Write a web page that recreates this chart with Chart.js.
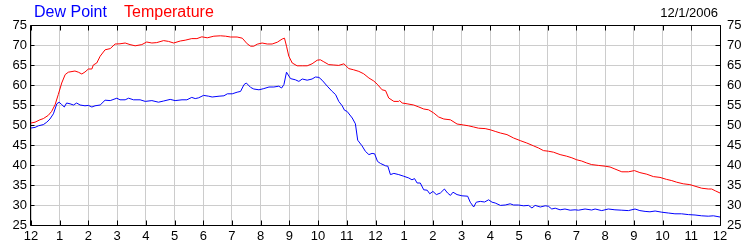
<!DOCTYPE html>
<html><head><meta charset="utf-8">
<script src="https://cdn.jsdelivr.net/npm/chart.js@4/dist/chart.umd.min.js"></script>
<style>html,body{margin:0;padding:0;background:#fff;overflow:hidden}canvas{display:block}</style>
</head><body>
<canvas id="c" width="750" height="250"></canvas>
<script>
const hourTicks = [0,1,2,3,4,5,6,7,8,9,10,11,12,13,14,15,16,17,18,19,20,21,22,23,24];
const hourLabels = ['12','1','2','3','4','5','6','7','8','9','10','11','12','1','2','3','4','5','6','7','8','9','10','11','12'];
const yTicks = [25,30,35,40,45,50,55,60,65,70,75];
const seriesNames = ['Dew Point','Temperature'];
const dateLabel = '12/1/2006';

const tempHours = [0,0.14,0.31,0.43,0.6,0.72,0.84,0.95,1.07,1.19,1.3,1.53,1.65,1.77,1.88,2.0,2.12,2.17,2.29,2.41,2.58,2.76,2.93,3.1,3.28,3.45,3.63,3.86,4.03,4.21,4.38,4.62,4.79,4.97,5.2,5.37,5.6,5.78,5.95,6.14,6.37,6.6,6.78,6.95,7.18,7.36,7.53,7.65,7.76,7.88,8.05,8.23,8.4,8.58,8.75,8.83,8.9,8.98,9.1,9.27,9.45,9.62,9.79,9.97,10.08,10.2,10.37,10.55,10.72,10.9,11.07,11.24,11.42,11.59,11.77,11.94,12.06,12.23,12.35,12.46,12.64,12.81,12.84,12.93,13.1,13.33,13.51,13.68,13.85,14.03,14.2,14.38,14.61,14.84,15.07,15.24,15.42,15.59,15.82,16.0,16.17,16.35,16.58,16.81,17.04,17.27,17.5,17.68,17.85,18.02,18.2,18.43,18.66,18.84,19.01,19.18,19.36,19.53,19.76,20.0,20.17,20.34,20.58,20.81,21.02,21.21,21.45,21.68,21.91,22.14,22.32,22.49,22.72,22.95,23.13,23.36,23.59,23.71,23.85,24.0];
const tempValues = [50.5,50.7,51.3,51.6,52.4,53.4,55.1,57.6,60.5,62.6,63.2,63.5,63.2,62.75,63.25,64,64,65,65.5,67.2,68.8,69.1,70.25,70.3,70.5,70.1,69.8,70.1,70.75,70.5,70.6,71.1,70.9,70.5,71,71.2,71.6,71.6,72.05,71.8,72.2,72.3,72.2,72.0,72,71.7,70.3,69.7,69.7,70.2,70.5,70.25,70.25,70.7,71.5,71.7,69.7,67.2,65.5,64.8,64.8,64.8,65.3,66.2,66.3,65.8,65.1,65,64.9,65.3,64.1,63.8,63.4,62.8,61.75,61.0,60.2,58.8,58.6,56.75,55.9,55.9,56.1,55.5,55.3,55,54.5,54,53.8,53,52,51.5,51.3,50.25,50,49.8,49.5,49.2,49.1,48.8,48.4,48,47.6,46.75,46.1,45.5,44.8,44.25,43.6,43.45,43.2,42.6,42.2,41.8,41.3,41,40.5,40.1,39.9,39.7,39.5,39,38.3,38.3,38.6,38.1,37.7,37.1,36.9,36.4,36.1,35.7,35.3,35.1,34.7,34.2,34,34,33.5,33];

const dewHours = [0,0.14,0.26,0.43,0.55,0.66,0.78,0.9,0.98,1.07,1.16,1.24,1.36,1.48,1.59,1.71,1.88,2.0,2.12,2.23,2.41,2.58,2.76,2.99,3.1,3.28,3.4,3.57,3.8,3.98,4.21,4.44,4.62,4.85,5.02,5.26,5.43,5.6,5.72,5.84,6.01,6.19,6.31,6.55,6.72,6.84,7.01,7.18,7.3,7.42,7.5,7.65,7.76,7.94,8.11,8.29,8.46,8.63,8.73,8.81,8.9,9.04,9.21,9.33,9.45,9.62,9.79,9.91,10.03,10.14,10.32,10.49,10.61,10.72,10.84,10.92,11.01,11.19,11.3,11.38,11.53,11.65,11.77,11.88,11.97,12.07,12.17,12.35,12.43,12.52,12.64,12.81,12.98,13.16,13.27,13.36,13.45,13.56,13.68,13.8,13.89,14.0,14.12,14.26,14.4,14.51,14.61,14.7,14.84,15.01,15.21,15.3,15.42,15.51,15.65,15.8,15.94,16.06,16.17,16.35,16.52,16.69,16.81,16.98,17.16,17.33,17.45,17.56,17.74,17.91,18.02,18.14,18.26,18.43,18.6,18.78,18.95,19.07,19.3,19.53,19.65,19.88,20.11,20.34,20.58,20.81,21.04,21.21,21.39,21.56,21.74,21.97,22.2,22.43,22.66,22.9,23.13,23.36,23.59,23.77,24.0];
const dewValues = [49.25,49.4,49.8,50.1,50.7,51.5,52.8,55.3,55.7,55.1,54.5,55.5,55.3,55,55.5,55,54.8,54.9,54.5,54.8,55,56.2,56.1,56.7,56.3,56.3,56.7,56.3,56.3,55.9,56.1,55.7,56,56.4,56.1,56.3,56.3,56.9,56.6,56.8,57.4,57.2,57,57.2,57.3,57.8,57.8,58.2,58.4,60.1,60.5,59.4,59,58.8,59.1,59.5,59.5,59.7,59.25,60.1,63.2,61.6,61.3,60.9,61.5,61.2,61.5,62,61.9,61.2,59.7,58.4,57.6,55.9,54.8,53.7,53.4,51.75,50.3,46.2,44.8,43.4,42.6,42.9,42.8,40.9,40.4,39.8,39.7,37.6,37.9,37.6,37.2,36.75,36.3,36.6,35.5,35.5,33.8,33.7,32.8,33.4,32.6,33,34,33,32.4,33.2,32.6,32.3,32.2,30.7,29.5,30.7,30.9,30.75,31.3,30.7,30.5,29.9,30,30.3,30,30,29.8,29.9,29.25,29.9,29.5,29.8,29.7,29,29.2,28.8,29,28.7,28.8,28.7,29,28.75,29,28.6,29,28.8,28.7,28.6,29,28.6,28.4,28.3,28.5,28.2,28,27.8,27.8,27.6,27.5,27.3,27.2,27.3,27];

const FONT = 'Liberation Sans, Arial, sans-serif';

const framePlugin = {
  id: 'frame',
  afterDraw(chart) {
    const ctx = chart.ctx, a = chart.chartArea;
    const xs = chart.scales.x, ys = chart.scales.y;
    ctx.save();
    ctx.strokeStyle = '#000';
    ctx.lineWidth = 1;
    ctx.beginPath();
    const L = Math.round(a.left) - 0.5, R = Math.round(a.right) + 0.5;
    const T = Math.round(a.top) + 0.5, B = Math.round(a.bottom) + 0.5;
    ctx.moveTo(L, T); ctx.lineTo(R, T);
    ctx.moveTo(L, B); ctx.lineTo(R, B);
    ctx.moveTo(L, T); ctx.lineTo(L, B);
    ctx.moveTo(R, T); ctx.lineTo(R, B);
    hourTicks.forEach(h => {
      const px = Math.round(xs.getPixelForValue(h)) + 0.5;
      ctx.moveTo(px, B); ctx.lineTo(px, B - 5);
      ctx.moveTo(px, T); ctx.lineTo(px, T + 5);
    });
    yTicks.forEach(v => {
      const py = Math.round(ys.getPixelForValue(v)) + 0.5;
      ctx.moveTo(L, py); ctx.lineTo(L + 4, py);
      ctx.moveTo(R, py); ctx.lineTo(R - 5, py);
    });
    ctx.stroke();
    ctx.textBaseline = 'alphabetic';
    ctx.font = '16px ' + FONT;
    ctx.textAlign = 'left';
    ctx.fillStyle = '#0000ff';
    ctx.fillText(seriesNames[0], 34, 17);
    ctx.fillStyle = '#ff0000';
    ctx.fillText(seriesNames[1], 124, 17);
    ctx.font = '13px ' + FONT;
    ctx.fillStyle = '#000';
    ctx.textAlign = 'right';
    ctx.fillText(dateLabel, 718, 17);
    ctx.restore();
  }
};

const yTickCfg = (pad) => ({
  color: '#000', font: { family: FONT, size: 13 }, padding: pad,
  callback: v => String(v), autoSkip: false
});

new Chart(document.getElementById('c'), {
  type: 'line',
  data: {
    datasets: [
      { label: seriesNames[0], data: dewHours.map((h, i) => ({ x: h, y: dewValues[i] })),
        borderColor: '#0000ff', borderWidth: 1, pointRadius: 0, tension: 0, fill: false, yAxisID: 'y' },
      { label: seriesNames[1], data: tempHours.map((h, i) => ({ x: h, y: tempValues[i] })),
        borderColor: '#ff0000', borderWidth: 1, pointRadius: 0, tension: 0, fill: false, yAxisID: 'y' }
    ]
  },
  options: {
    responsive: false, animation: false, devicePixelRatio: 1,
    layout: { padding: { top: 25, left: 0, right: 0, bottom: 0 } },
    plugins: { legend: { display: false }, tooltip: { enabled: false }, title: { display: false } },
    scales: {
      x: {
        type: 'linear', min: 0, max: 24, position: 'bottom',
        afterBuildTicks: s => { s.ticks = hourTicks.map(v => ({ value: v })); },
        afterFit: s => { s.height = 25; },
        ticks: { color: '#000', font: { family: FONT, size: 13 }, padding: 4, maxRotation: 0, autoSkip: false,
                 callback: (v, i) => hourLabels[i] },
        grid: { color: '#cccccc', lineWidth: 1, drawTicks: false },
        border: { display: false }
      },
      y: {
        position: 'left', min: 25, max: 75,
        afterBuildTicks: s => { s.ticks = yTicks.map(v => ({ value: v })); },
        afterFit: s => { s.width = 31; },
        ticks: yTickCfg(4),
        grid: { color: '#cccccc', lineWidth: 1, drawTicks: false },
        border: { display: false }
      },
      y2: {
        position: 'right', min: 25, max: 75,
        afterBuildTicks: s => { s.ticks = yTicks.map(v => ({ value: v })); },
        afterFit: s => { s.width = 30; },
        ticks: yTickCfg(7),
        grid: { display: false, drawTicks: false },
        border: { display: false }
      }
    }
  },
  plugins: [framePlugin]
});
</script>
</body></html>
